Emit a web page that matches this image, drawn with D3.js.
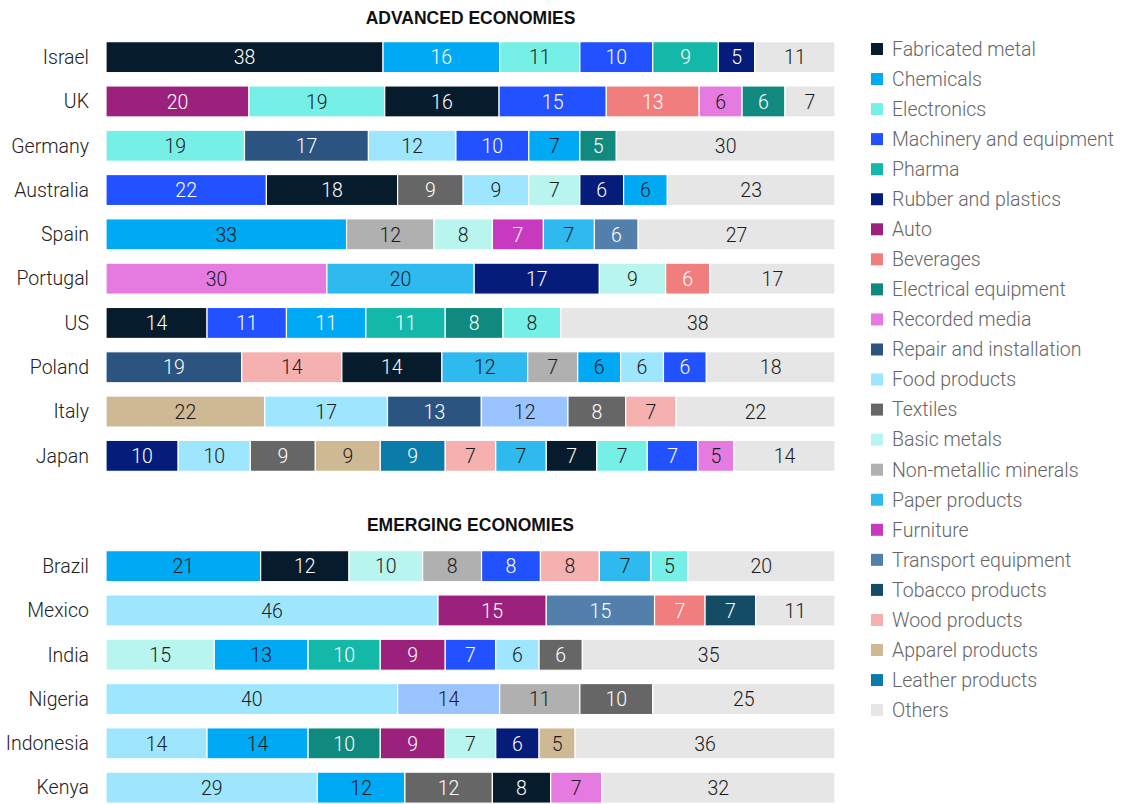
<!DOCTYPE html>
<html>
<head>
<meta charset="utf-8">
<script src="https://cdn.jsdelivr.net/npm/d3@7"></script>
<style>
  body { margin: 0; background: #fff; }
  svg text { font-family: Roboto, "Liberation Sans", sans-serif; }
</style>
</head>
<body>
<svg id="chart" width="1126" height="804"></svg>
<script>
// industry categories, in legend order
var categories = [
  'Fabricated metal', 'Chemicals', 'Electronics', 'Machinery and equipment', 'Pharma',
  'Rubber and plastics', 'Auto', 'Beverages', 'Electrical equipment', 'Recorded media',
  'Repair and installation', 'Food products', 'Textiles', 'Basic metals',
  'Non-metallic minerals', 'Paper products', 'Furniture', 'Transport equipment',
  'Tobacco products', 'Wood products', 'Apparel products', 'Leather products', 'Others'
];
var colors = [
  '#061c2c', '#00a9f4', '#76f0e6', '#2251ff', '#14b8a8',
  '#051c7a', '#9c217d', '#f17e7e', '#108a7e', '#e57be0',
  '#2b5580', '#9ee6fd', '#666666', '#b8f5ef',
  '#b0b0b0', '#2ebaef', '#c73ac0', '#527fac',
  '#144c66', '#f5b0b0', '#cfb995', '#0b7ca9', '#e6e6e6'
];
// segment shown in the bars but not in the legend
var unlisted = 'Other industry';
var unlistedColor = '#99c4ff';

var darkText = ['Chemicals', 'Electronics', 'Recorded media', 'Food products', 'Basic metals',
  'Non-metallic minerals', 'Paper products', 'Wood products', 'Apparel products', 'Others', unlisted];
var whiteChemicals = ['Israel', 'US'];

var advancedCountries = ['Israel', 'UK', 'Germany', 'Australia', 'Spain', 'Portugal', 'US', 'Poland', 'Italy', 'Japan'];
var advancedShares = [
  [['Fabricated metal', 38], ['Chemicals', 16], ['Electronics', 11], ['Machinery and equipment', 10], ['Pharma', 9], ['Rubber and plastics', 5], ['Others', 11]],
  [['Auto', 20], ['Electronics', 19], ['Fabricated metal', 16], ['Machinery and equipment', 15], ['Beverages', 13], ['Recorded media', 6], ['Electrical equipment', 6], ['Others', 7]],
  [['Electronics', 19], ['Repair and installation', 17], ['Food products', 12], ['Machinery and equipment', 10], ['Chemicals', 7], ['Electrical equipment', 5], ['Others', 30]],
  [['Machinery and equipment', 22], ['Fabricated metal', 18], ['Textiles', 9], ['Food products', 9], ['Basic metals', 7], ['Rubber and plastics', 6], ['Chemicals', 6], ['Others', 23]],
  [['Chemicals', 33], ['Non-metallic minerals', 12], ['Basic metals', 8], ['Furniture', 7], ['Paper products', 7], ['Transport equipment', 6], ['Others', 27]],
  [['Recorded media', 30], ['Paper products', 20], ['Rubber and plastics', 17], ['Basic metals', 9], ['Beverages', 6], ['Others', 17]],
  [['Fabricated metal', 14], ['Machinery and equipment', 11], ['Chemicals', 11], ['Pharma', 11], ['Electrical equipment', 8], ['Electronics', 8], ['Others', 38]],
  [['Repair and installation', 19], ['Wood products', 14], ['Fabricated metal', 14], ['Paper products', 12], ['Non-metallic minerals', 7], ['Chemicals', 6], ['Food products', 6], ['Machinery and equipment', 6], ['Others', 18]],
  [['Apparel products', 22], ['Food products', 17], ['Repair and installation', 13], [unlisted, 12], ['Textiles', 8], ['Wood products', 7], ['Others', 22]],
  [['Rubber and plastics', 10], ['Food products', 10], ['Textiles', 9], ['Apparel products', 9], ['Leather products', 9], ['Wood products', 7], ['Paper products', 7], ['Fabricated metal', 7], ['Electronics', 7], ['Machinery and equipment', 7], ['Recorded media', 5], ['Others', 14]]
];

var emergingCountries = ['Brazil', 'Mexico', 'India', 'Nigeria', 'Indonesia', 'Kenya'];
var emergingShares = [
  [['Chemicals', 21], ['Fabricated metal', 12], ['Basic metals', 10], ['Non-metallic minerals', 8], ['Machinery and equipment', 8], ['Wood products', 8], ['Paper products', 7], ['Electronics', 5], ['Others', 20]],
  [['Food products', 46], ['Auto', 15], ['Transport equipment', 15], ['Beverages', 7], ['Tobacco products', 7], ['Others', 11]],
  [['Basic metals', 15], ['Chemicals', 13], ['Pharma', 10], ['Auto', 9], ['Machinery and equipment', 7], ['Food products', 6], ['Textiles', 6], ['Others', 35]],
  [['Food products', 40], [unlisted, 14], ['Non-metallic minerals', 11], ['Textiles', 10], ['Others', 25]],
  [['Food products', 14], ['Chemicals', 14], ['Electrical equipment', 10], ['Auto', 9], ['Basic metals', 7], ['Rubber and plastics', 6], ['Apparel products', 5], ['Others', 36]],
  [['Food products', 29], ['Chemicals', 12], ['Textiles', 12], ['Fabricated metal', 8], ['Recorded media', 7], ['Others', 32]]
];

var svg = d3.select('#chart');

var color = d3.scaleOrdinal()
  .domain(categories.concat([unlisted]))
  .range(colors.concat([unlistedColor]));

// each row is stretched to the full bar width
var x = d3.scaleLinear().domain([0, 1]).range([106, 835]);

function drawPanel(title, countries, shares, top, titleY) {
  var y = d3.scaleBand()
    .domain(countries)
    .range([top, top + countries.length * 44.3])
    .paddingInner(0.3)
    .paddingOuter(0.15);

  svg.append('text')
    .attr('x', (x.range()[0] + x.range()[1]) / 2)
    .attr('y', titleY)
    .attr('text-anchor', 'middle')
    .style('font-family', '"Liberation Sans", Arial, sans-serif')
    .style('font-weight', 'bold')
    .style('font-size', '17.5px')
    .style('fill', '#111')
    .text(title);

  countries.forEach(function(country, i) {
    var total = d3.sum(shares[i], function(d) { return d[1]; });
    var acc = 0;
    var segs = shares[i].map(function(d) {
      var s = { cat: d[0], value: d[1], x0: acc / total, x1: (acc + d[1]) / total };
      acc += d[1];
      return s;
    });

    var row = svg.append('g').attr('transform', 'translate(0,' + y(country) + ')');

    row.append('text')
      .attr('x', 89)
      .attr('y', y.bandwidth() / 2)
      .attr('dy', '0.35em')
      .attr('text-anchor', 'end')
      .style('font-size', '19.5px')
      .style('font-weight', 300)
      .style('fill', '#222')
      .text(country);

    var seg = row.selectAll('g.seg').data(segs).enter().append('g').attr('class', 'seg');

    seg.append('rect')
      .attr('x', function(d) { return x(d.x0); })
      .attr('width', function(d) { return x(d.x1) - x(d.x0); })
      .attr('height', y.bandwidth())
      .attr('fill', function(d) { return color(d.cat); })
      .attr('stroke', '#fff')
      .attr('stroke-width', 1.2);

    seg.append('text')
      .attr('x', function(d) { return (x(d.x0) + x(d.x1)) / 2; })
      .attr('y', y.bandwidth() / 2)
      .attr('dy', '0.37em')
      .attr('text-anchor', 'middle')
      .style('font-size', '19.5px')
      .style('font-weight', 300)
      .style('fill', function(d) {
        if (d.cat === 'Chemicals' && whiteChemicals.indexOf(country) !== -1) return '#fff';
        return darkText.indexOf(d.cat) !== -1 ? '#1a1a1a' : '#fff';
      })
      .text(function(d) { return d.value; });
  });
}

drawPanel('ADVANCED ECONOMIES', advancedCountries, advancedShares, 35, 24);
drawPanel('EMERGING ECONOMIES', emergingCountries, emergingShares, 544, 531);

// legend
var legend = svg.append('g').attr('transform', 'translate(871,0)');
var item = legend.selectAll('g').data(categories).enter().append('g')
  .attr('transform', function(d, i) { return 'translate(0,' + (49 + i * 30.05) + ')'; });

item.append('rect')
  .attr('x', 0)
  .attr('y', -6)
  .attr('width', 12)
  .attr('height', 12)
  .attr('fill', function(d) { return color(d); });

item.append('text')
  .attr('x', 21)
  .attr('dy', '0.35em')
  .style('font-size', '19.5px')
  .style('font-weight', 300)
  .style('fill', '#666')
  .text(function(d) { return d; });
</script>
</body>
</html>
